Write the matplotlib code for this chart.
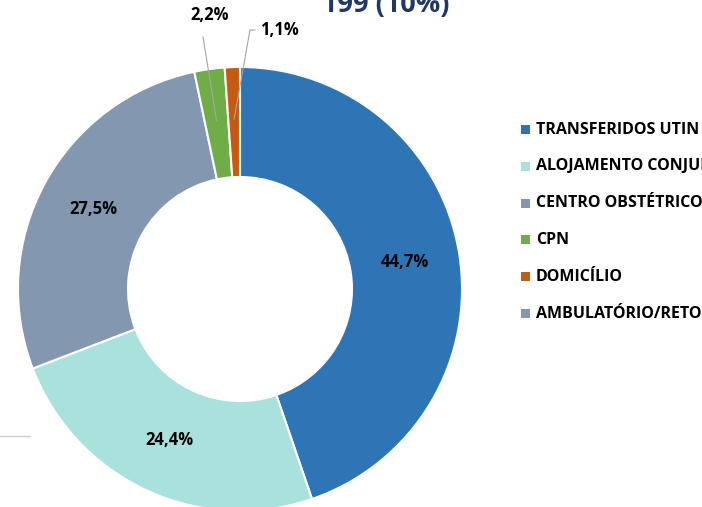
import matplotlib.pyplot as plt
from matplotlib.patches import Rectangle
import numpy as np

CATEGORIES = ["TRANSFERIDOS UTIN", "ALOJAMENTO CONJUNTO", "CENTRO OBSTÉTRICO",
              "CPN", "DOMICÍLIO", "AMBULATÓRIO/RETORNO"]
VALUES = [44.7, 24.4, 27.5, 2.2, 1.1, 0.0]
LABELS = ["44,7%", "24,4%", "27,5%", "2,2%", "1,1%", ""]
COLORS = ["#2E75B6", "#A9E1DC", "#8497B0", "#70AD47", "#C55A11", "#8497B0"]
TITLE = "199 (10%)"

W, H = 702, 507
plt.rcParams["font.family"] = ["Open Sans", "DejaVu Sans"]

fig = plt.figure(figsize=(W / 100, H / 100), dpi=100)
ax = fig.add_axes([0, 0, 1, 1])

cx, cy = 240, H - 289
r_out, r_in = 222, 112

drawn = [(v, c) for v, c in zip(VALUES, COLORS) if v > 0]
wedges, _ = ax.pie([v for v, _ in drawn], colors=[c for _, c in drawn],
                   center=(cx, cy), radius=r_out, startangle=90, counterclock=False,
                   wedgeprops=dict(width=r_out - r_in, edgecolor="white", linewidth=1.5))

r_mid = (r_out + r_in) / 2
for w, lab in zip(wedges, LABELS):
    ang = np.deg2rad((w.theta1 + w.theta2) / 2)
    x, y = cx + r_mid * np.cos(ang), cy + r_mid * np.sin(ang)
    if lab in ("44,7%", "24,4%", "27,5%"):
        ax.text(x, y, lab, ha="center", va="center", fontsize=12, fontweight="bold")

# small slices with leader lines
w_cpn, w_dom = wedges[3], wedges[4]
for w, lab, txt_xy, elbow in [(w_cpn, "2,2%", (210, H - 15), [(203, H - 37)]),
                              (w_dom, "1,1%", (279, H - 30), [(250, H - 30), (255, H - 30)])]:
    ang = np.deg2rad((w.theta1 + w.theta2) / 2)
    px, py = cx + 170 * np.cos(ang), cy + 170 * np.sin(ang)
    pts = [(px, py)] + elbow
    ax.plot([p[0] for p in pts], [p[1] for p in pts], color="#A6A6A6", lw=0.8)
    ax.text(txt_xy[0], txt_xy[1], lab, ha="center", va="center", fontsize=12, fontweight="bold")

ax.plot([0, 30], [H - 436, H - 436], color="#D0D0D0", lw=1)

ax.text(386, H - 12, TITLE, ha="center", va="baseline", fontsize=19.5,
        fontweight="bold", color="#1F3864")

# legend, drawn by hand so the rows match the original spacing
for i, (cat, col) in enumerate(zip(CATEGORIES, COLORS)):
    ly = H - (129.5 + 36.8 * i)
    ax.add_patch(Rectangle((521, ly - 4.5), 9, 9, facecolor=col, edgecolor="none"))
    ax.text(536, ly, cat, ha="left", va="center", fontsize=11.5, fontweight="bold")

ax.set_xlim(0, W)
ax.set_ylim(0, H)
ax.set_aspect("equal")
ax.axis("off")

fig.savefig("out.png", dpi=100)
